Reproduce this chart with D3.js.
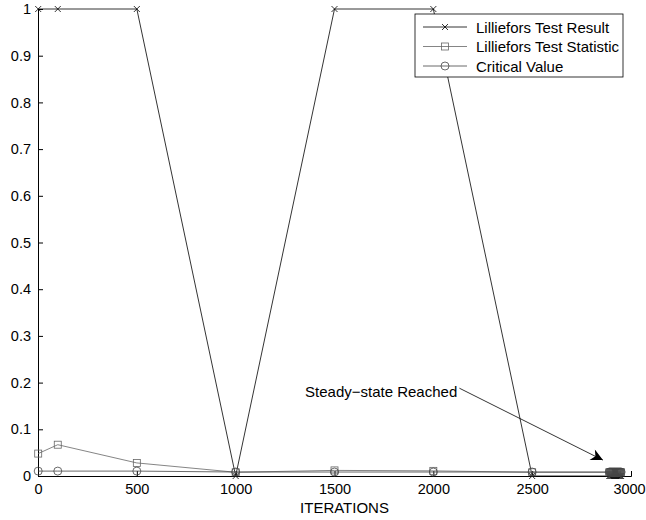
<!DOCTYPE html>
<html>
<head>
<meta charset="utf-8">
<script src="https://cdn.jsdelivr.net/npm/d3@7"></script>
<style>
  body { margin: 0; background: #fff; }
  text { font-family: "Liberation Sans", Arial, Helvetica, sans-serif; }
</style>
</head>
<body>
<div id="chart"></div>
<script>
// iterations where the test was run (dense block near the end)
const iterations = [1, 100, 500, 1000, 1500, 2000, 2500,
  2890, 2895, 2900, 2905, 2910, 2915, 2920, 2925, 2930, 2935, 2940, 2945, 2950];
const testResult = [1, 1, 1, 0, 1, 1, 0,
  0, 0, 0, 0, 0, 0, 0, 0, 0, 0, 0, 0, 0];
const testStatistic = [0.048, 0.067, 0.028, 0.008, 0.012, 0.011, 0.008,
  0.008, 0.008, 0.008, 0.008, 0.008, 0.008, 0.008, 0.008, 0.008, 0.008, 0.008, 0.008, 0.008];
const criticalValue = [0.0105, 0.0105, 0.0105, 0.0085, 0.0085, 0.0085, 0.0085,
  0.0085, 0.0085, 0.0085, 0.0085, 0.0085, 0.0085, 0.0085, 0.0085, 0.0085, 0.0085, 0.0085, 0.0085, 0.0085];
const xTicks = [0, 500, 1000, 1500, 2000, 2500, 3000];
const yTicks = [0, 0.1, 0.2, 0.3, 0.4, 0.5, 0.6, 0.7, 0.8, 0.9, 1];
const legendNames = ["Lilliefors Test Result", "Lilliefors Test Statistic", "Critical Value"];

const width = 646, height = 520;
const margin = { top: 9, right: 15, bottom: 44, left: 38 };
const iw = width - margin.left - margin.right;
const ih = height - margin.top - margin.bottom;

const svg = d3.select("#chart").append("svg")
  .attr("width", width).attr("height", height);
const g = svg.append("g").attr("transform", `translate(${margin.left},${margin.top})`);

const x = d3.scaleLinear().domain([0, 3000]).range([0, iw]);
const y = d3.scaleLinear().domain([0, 1]).range([ih, 0]);

// axes (ticks pointing inward, MATLAB style)
const xAxis = g.append("g").attr("transform", `translate(0,${ih})`)
  .call(d3.axisBottom(x).tickValues(xTicks).tickSize(-5).tickPadding(8).tickFormat(d3.format("d")));
const yAxis = g.append("g")
  .call(d3.axisLeft(y).tickValues(yTicks).tickSize(-5).tickPadding(7).tickFormat(d => d === 0 || d === 1 ? d : d3.format(".1f")(d)));
[xAxis, yAxis].forEach(a => {
  a.select(".domain").attr("stroke", "#000").attr("stroke-width", 1);
  a.selectAll(".tick line").attr("stroke", "#000");
  a.selectAll("text").attr("font-size", 14.5).attr("fill", "#000")
    .attr("font-family", "Liberation Sans, Arial, sans-serif");
});
// keep the last x label inside the window
xAxis.selectAll(".tick text").filter(d => d === 3000).attr("dx", -2);

g.append("text")
  .attr("x", iw / 2 + 10).attr("y", ih + 37)
  .attr("text-anchor", "middle").attr("font-size", 15)
  .text("ITERATIONS");

const series = [
  { name: legendNames[0], values: testResult, color: "#000", marker: "x" },
  { name: legendNames[1], values: testStatistic, color: "#666", marker: "square" },
  { name: legendNames[2], values: criticalValue, color: "#444", marker: "circle" }
];

function drawMarker(sel, type, color) {
  if (type === "x") {
    sel.append("path").attr("d", "M-3,-3L3,3M-3,3L3,-3")
      .attr("stroke", color).attr("stroke-width", 0.8).attr("fill", "none");
  } else if (type === "square") {
    sel.append("rect").attr("x", -3.5).attr("y", -3.5).attr("width", 7).attr("height", 7)
      .attr("stroke", color).attr("stroke-width", 0.8).attr("fill", "none");
  } else {
    sel.append("circle").attr("r", 4)
      .attr("stroke", color).attr("stroke-width", 0.8).attr("fill", "none");
  }
}

const line = d3.line().x(d => x(d[0])).y(d => y(d[1]));

series.forEach(s => {
  const pts = iterations.map((it, i) => [it, s.values[i]]);
  g.append("path").datum(pts)
    .attr("d", line)
    .attr("fill", "none").attr("stroke", s.color).attr("stroke-width", 0.8);
  g.selectAll(null).data(pts).enter().append("g")
    .attr("transform", d => `translate(${x(d[0])},${y(d[1])})`)
    .each(function () { drawMarker(d3.select(this), s.marker, s.color); });
});

// annotation (data coordinates)
const textX = 1351, textY = 0.169;   // text start, baseline
const fromX = 2132, fromY = 0.188;   // arrow start (text end)
const tipX = 2858, tipY = 0.034;     // arrow tip
g.append("text")
  .attr("x", x(textX)).attr("y", y(textY))
  .attr("font-size", 15).attr("text-anchor", "start")
  .text("Steady\u2212state Reached");
svg.append("defs").append("marker")
  .attr("id", "arrow").attr("viewBox", "0 0 10 10")
  .attr("refX", 10).attr("refY", 5)
  .attr("markerWidth", 17).attr("markerHeight", 12).attr("markerUnits", "userSpaceOnUse")
  .attr("orient", "auto")
  .append("path").attr("d", "M0,0L10,5L0,10L3,5Z").attr("fill", "#000");
g.append("line")
  .attr("x1", x(fromX)).attr("y1", y(fromY))
  .attr("x2", x(tipX)).attr("y2", y(tipY))
  .attr("stroke", "#000").attr("stroke-width", 0.8)
  .attr("marker-end", "url(#arrow)");

// legend
const legend = svg.append("g").attr("transform", "translate(415,14)");
legend.append("rect").attr("width", 208).attr("height", 63)
  .attr("fill", "#fff").attr("stroke", "#000").attr("stroke-width", 0.8);
series.forEach((s, i) => {
  const row = legend.append("g").attr("transform", `translate(0,${13 + i * 19.5})`);
  row.append("line").attr("x1", 8).attr("x2", 52).attr("stroke", s.color).attr("stroke-width", 0.8);
  drawMarker(row.append("g").attr("transform", "translate(30,0)"), s.marker, s.color);
  row.append("text").attr("x", 61).attr("y", 5.5).attr("font-size", 15).text(s.name);
});
</script>
</body>
</html>
